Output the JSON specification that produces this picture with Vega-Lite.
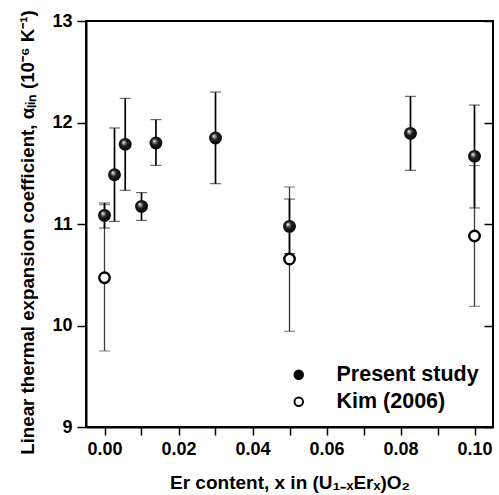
{
  "$schema": "https://vega.github.io/schema/vega-lite/v6.json",
  "width": 407,
  "height": 406,
  "autosize": {"type": "none"},
  "padding": {"left": 86, "top": 21, "right": 6, "bottom": 68},
  "config": {
    "font": "Liberation Sans",
    "view": {"stroke": "black", "strokeWidth": 2},
    "axis": {
      "grid": false,
      "domainColor": "black",
      "domainWidth": 2,
      "tickColor": "black",
      "tickWidth": 1.5,
      "labelFont": "Liberation Sans",
      "labelFontWeight": "bold",
      "labelFontSize": 18,
      "labelColor": "black",
      "titleFont": "Liberation Sans",
      "titleFontWeight": "bold",
      "titleFontSize": 19,
      "titleColor": "black"
    }
  },
  "data": {
    "values": [
      {"x": 0.000, "y": 11.085, "lo": 10.96, "hi": 11.207, "series": "Present study"},
      {"x": 0.0027, "y": 11.486, "lo": 11.026, "hi": 11.946, "series": "Present study"},
      {"x": 0.0056, "y": 11.785, "lo": 11.332, "hi": 12.238, "series": "Present study"},
      {"x": 0.010, "y": 11.174, "lo": 11.036, "hi": 11.309, "series": "Present study"},
      {"x": 0.0139, "y": 11.798, "lo": 11.578, "hi": 12.028, "series": "Present study"},
      {"x": 0.030, "y": 11.847, "lo": 11.397, "hi": 12.30, "series": "Present study"},
      {"x": 0.050, "y": 10.977, "lo": 10.71, "hi": 11.246, "series": "Present study"},
      {"x": 0.0827, "y": 11.893, "lo": 11.529, "hi": 12.258, "series": "Present study"},
      {"x": 0.100, "y": 11.667, "lo": 11.158, "hi": 12.172, "series": "Present study"},
      {"x": 0.000, "y": 10.471, "lo": 9.749, "hi": 11.19, "series": "Kim (2006)"},
      {"x": 0.050, "y": 10.655, "lo": 9.943, "hi": 11.365, "series": "Kim (2006)"},
      {"x": 0.100, "y": 10.882, "lo": 10.189, "hi": 11.575, "series": "Kim (2006)"}
    ]
  },
  "resolve": {"axis": {"y": "independent"}},
  "layer": [
    {
      "transform": [{"filter": "datum.series === 'Kim (2006)'"}],
      "mark": {"type": "errorbar", "color": "#3a3a3a", "ticks": {"size": 11}, "rule": {"strokeWidth": 1.3}},
      "encoding": {
        "x": {"field": "x", "type": "quantitative", "scale": {"domain": [-0.005, 0.105], "nice": false, "zero": false},
          "axis": {"values": [0, 0.01, 0.02, 0.03, 0.04, 0.05, 0.06, 0.07, 0.08, 0.09, 0.1],
            "labelExpr": "round(datum.value*100) % 2 === 0 ? format(datum.value, '.2f') : ''",
            "tickSize": 8, "labelPadding": 5, "titlePadding": 15,
            "title": "Er content, x in (U₁₋ₓErₓ)O₂"}},
        "y": {"field": "lo", "type": "quantitative", "scale": {"domain": [9, 13], "nice": false, "zero": false},
          "axis": {"values": [9, 10, 11, 12, 13], "tickSize": 9, "labelPadding": 5, "titlePadding": 14,
            "titleFontSize": 18.7, "titleY": 211,
            "title": "Linear thermal expansion coefficient, αₗᵢₙ (10⁻⁶ K⁻¹)"}},
        "y2": {"field": "hi"}
      }
    },
    {
      "transform": [{"filter": "datum.series === 'Present study'"}],
      "mark": {"type": "errorbar", "color": "black", "ticks": {"size": 11}, "rule": {"strokeWidth": 1.7}},
      "encoding": {
        "x": {"field": "x", "type": "quantitative"},
        "y": {"field": "lo", "type": "quantitative", "axis": null},
        "y2": {"field": "hi"}
      }
    },
    {
      "transform": [{"filter": "datum.series === 'Kim (2006)'"}],
      "mark": {"type": "point", "opacity": 1, "stroke": "black", "strokeWidth": 2.4, "size": 110},
      "encoding": {
        "x": {"field": "x", "type": "quantitative"},
        "y": {"field": "y", "type": "quantitative", "axis": null},
        "fill": {"field": "series", "type": "nominal",
          "scale": {"domain": ["Present study", "Kim (2006)"], "range": ["black", "white"]},
          "legend": {
            "orient": "bottom-right", "offset": 14, "title": null, "padding": 0,
            "labelFont": "Liberation Sans", "labelFontSize": 21.5, "labelFontWeight": "bold", "labelColor": "black",
            "labelOffset": 27, "rowPadding": 4, "symbolType": "circle", "symbolSize": 72,
            "symbolStrokeColor": "black", "symbolStrokeWidth": 2, "symbolOpacity": 1
          }}
      }
    },
    {
      "transform": [{"filter": "datum.series === 'Present study'"}],
      "mark": {"type": "point", "opacity": 1, "size": 165, "strokeWidth": 0,
        "fill": {"gradient": "radial", "x1": 0.36, "y1": 0.33, "r1": 0, "x2": 0.5, "y2": 0.5, "r2": 0.55,
          "stops": [{"offset": 0, "color": "#ffffff"}, {"offset": 0.18, "color": "#9a9a9a"}, {"offset": 0.45, "color": "#202020"}, {"offset": 1, "color": "#000000"}]}},
      "encoding": {
        "x": {"field": "x", "type": "quantitative"},
        "y": {"field": "y", "type": "quantitative",
          "axis": {"orient": "right", "values": [9, 10, 11, 12, 13], "labels": false, "tickSize": -9, "title": null, "domain": false}}
      }
    }
  ]
}
